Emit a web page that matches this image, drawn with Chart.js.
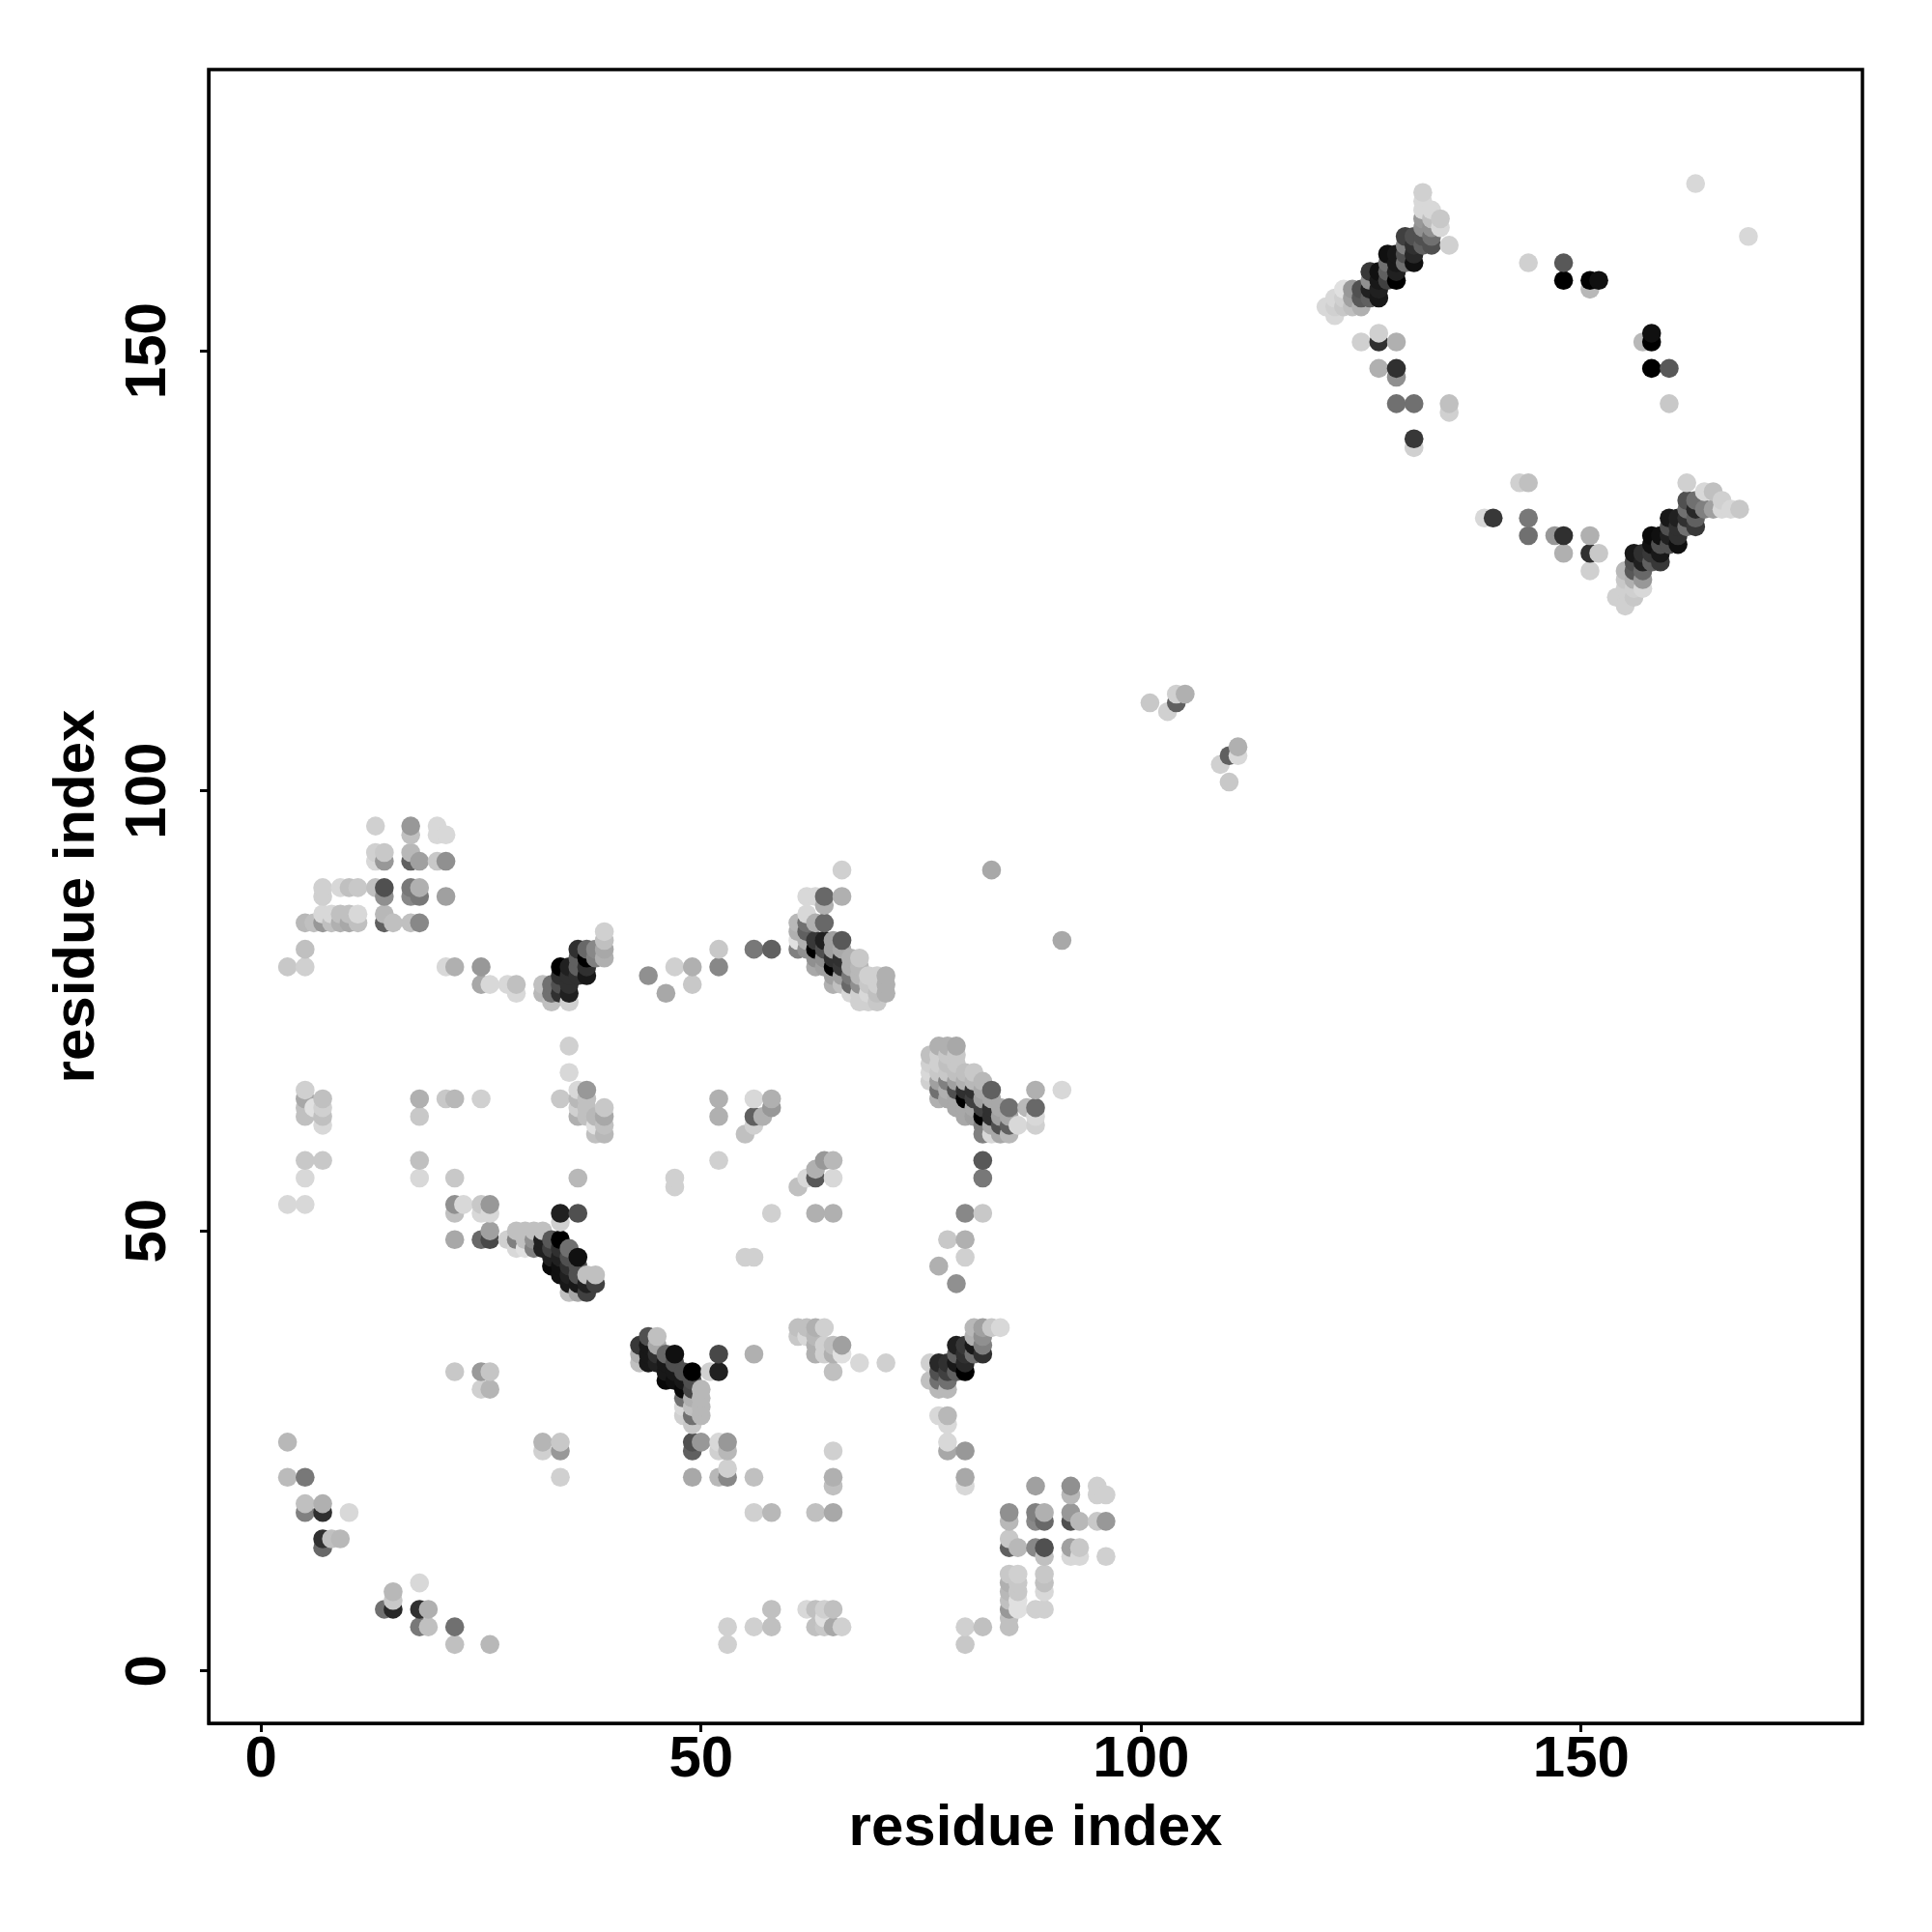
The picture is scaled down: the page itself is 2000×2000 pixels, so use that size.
<!DOCTYPE html>
<html>
<head>
<meta charset="utf-8">
<title>residue contact map</title>
<script src="https://cdn.jsdelivr.net/npm/chart.js@4/dist/chart.umd.min.js"></script>
<style>
  html, body { margin: 0; padding: 0; background: #fff; }
  canvas { display: block; }
</style>
</head>
<body>
<canvas id="contactChart" width="2000" height="2000"></canvas>
<script>
// Contact map. Each entry is [residue x, residue y, grey level].
const tickValues = [0, 50, 100, 150];
const axisTitle = "residue index";

const lowerLeft = [
  [3,26,0xb8],[3,22,0xbb],[5,22,0x78],[5,19,0xc0],[5,18,0x80],[7,19,0xb0],[7,18,0x30],[10,18,0xd8],
  [7,15,0x30],[7,14,0x68],[8,15,0xc0],[9,15,0xb8],[15,9,0xb8],[15,8,0xc8],[14,7,0x70],[15,7,0x28],
  [18,10,0xd8],[18,7,0x30],[19,7,0xb0],[18,5,0x78],[19,5,0xc0],[22,5,0x70],[22,3,0xc0],[26,3,0xb8],
  [22,34,0xc8],[25,34,0x99],[26,34,0xc5],[25,32,0xd0],[26,32,0xb5],[32,26,0xb5],[32,25,0xd0],
  [34,26,0xc8],[34,25,0x98],[34,22,0xd0],
];

const strandA = [
  [43,37,0x38],[43,36,0xb0],[43,35,0xc0],[44,38,0x50],[44,37,0x18],[44,36,0x18],[44,35,0x18],
  [45,38,0xc0],[45,37,0xa8],[45,36,0x30],[45,35,0x20],[46,36,0x68],[46,35,0x18],[46,34,0x18],[46,33,0x08],
  [47,36,0x10],[47,35,0x50],[47,34,0x18],[47,33,0x10],[48,34,0x50],[48,33,0x18],[48,32,0x08],[48,31,0x70],
  [48,30,0xd8],[48,29,0xd0],[49,34,0x00],[49,33,0x50],[49,32,0x48],[49,31,0xb0],[49,30,0xc0],[49,29,0x70],
  [49,28,0xc8],[50,32,0xb8],[50,31,0xb8],[50,30,0xb8],[50,29,0xb8],[51,34,0xd0],[52,36,0x48],[52,34,0x20],
  [56,36,0xb0],
];

const lowerMiddle = [
  [49,26,0x50],[49,25,0x60],[50,26,0x98],[52,26,0xd8],[52,25,0xd0],[53,26,0x98],[53,25,0xb8],
  [49,22,0xa8],[52,22,0xb8],[53,22,0x88],[53,23,0xd0],[56,22,0xc0],[65,25,0xd0],[65,22,0xb0],[65,21,0xc0],
  [56,18,0xd0],[58,18,0xb8],[63,18,0xc0],[65,18,0xa8],[58,7,0xc0],[62,7,0xd8],[63,7,0xc0],[64,7,0xd0],[65,7,0xc0],
  [53,5,0xd0],[53,3,0xd0],[56,5,0xd0],[58,5,0xc0],[63,5,0xc0],[64,5,0xc8],[64,6,0xe0],[65,5,0xa8],[66,5,0xd0],
  [61,39,0xc0],[62,39,0xc0],[63,39,0xb0],[64,39,0xd0],[61,38,0xc8],[62,38,0xd8],[63,38,0xb8],[63,37,0xb0],
  [63,36,0xb0],[64,37,0xd0],[64,36,0xd0],[65,37,0xc0],[65,36,0xb0],[66,37,0xa0],[66,36,0xe0],[65,34,0xc0],
  [68,35,0xd8],[71,35,0xd0],
];

const strandB = [
  [76,35,0xd0],[76,33,0xc0],[77,35,0x28],[77,34,0x50],[77,33,0x70],[77,32,0xb8],[78,35,0x30],[78,34,0x40],
  [78,33,0x70],[78,32,0xb8],[79,37,0x20],[79,36,0x60],[79,35,0x18],[79,34,0x60],[80,37,0x38],[80,36,0x30],
  [80,35,0x28],[80,34,0x00],[81,39,0xb8],[81,38,0xb0],[81,37,0x18],[81,36,0x70],[82,39,0xa0],[82,38,0x90],
  [82,37,0x80],[82,36,0x30],[83,39,0xc8],[84,39,0xd8],
];

const lowerRight = [
  [80,25,0x98],[78,25,0xa8],[78,26,0xd8],[78,28,0xd8],[78,29,0xb8],[77,29,0xd8],[80,22,0xa8],[80,21,0xd8],
  [80,5,0xd0],[82,5,0xc0],[80,3,0xc8],[85,5,0xc0],[85,6,0xc0],[85,7,0x98],[85,8,0xc0],[85,9,0xb8],[85,10,0xb0],[85,11,0xc8],
  [86,11,0xd0],[86,10,0xc8],[86,9,0xc8],[86,8,0xe0],[86,7,0xe0],[88,7,0xd0],[89,7,0xd0],[89,9,0xd8],[89,10,0xc0],[89,11,0xc8],
  [85,15,0xc8],[85,14,0x60],[86,14,0xb8],[88,14,0x88],[89,14,0x50],[89,13,0xc0],[92,14,0xa0],[93,14,0xc8],[92,13,0xd8],[93,13,0xd8],[96,13,0xd0],
  [85,18,0x90],[85,17,0xb8],[88,18,0x80],[88,17,0x88],[89,18,0xb0],[89,17,0x68],[92,18,0x98],[92,17,0x50],[93,17,0xb8],[95,17,0xc8],[96,17,0x98],
  [88,21,0xa0],[92,21,0x90],[92,20,0xb8],[95,21,0xd0],[95,20,0xd0],[96,20,0xd0],
];

const middleLeft = [
  [5,66,0xd0],[5,65,0xa8],[5,64,0xc0],[5,63,0xc0],[6,64,0xe0],[7,65,0xc0],[7,64,0xd0],[7,63,0xc0],[7,62,0xd8],
  [5,58,0xc8],[7,58,0xc8],[5,56,0xd8],[3,53,0xd8],[5,53,0xd8],[18,65,0xb0],[18,63,0xc8],[21,65,0xc8],[22,65,0xb8],[25,65,0xd0],
  [18,58,0xc0],[18,56,0xd8],[22,56,0xc8],[22,53,0x90],[22,52,0xc0],[23,53,0xd8],[25,53,0xc8],[26,53,0x98],[25,52,0xd8],[26,52,0xd8],
  [22,49,0xa8],[25,49,0x68],[26,49,0x48],[26,50,0xa0],[28,49,0xd0],
  [35,71,0xd0],[35,68,0xd8],[34,65,0xc8],[36,66,0xd8],[37,66,0x98],[36,65,0xb8],[37,65,0xc0],[36,64,0xd0],[37,64,0xc0],[36,63,0xb0],[37,63,0xc0],
  [39,64,0xc8],[39,63,0xa8],[38,63,0xb8],[38,62,0xe0],[39,62,0xc0],[38,61,0xc0],[39,61,0xb8],[36,56,0xb8],[47,56,0xd0],[47,55,0xd0],
];

const strandC = [
  [29,50,0xc0],[30,50,0xc0],[31,50,0xc0],[32,50,0xc0],[29,49,0x80],[30,49,0xc0],[31,49,0x90],[32,49,0x20],
  [29,48,0xd8],[30,48,0xe0],[31,48,0x80],[32,48,0x20],[33,49,0x58],[34,49,0x00],[34,52,0x20],[36,52,0x50],[34,51,0xd0],
  [33,48,0x40],[34,48,0x30],[35,48,0x70],[33,47,0x20],[34,47,0x20],[35,47,0x50],[36,47,0x10],
  [33,46,0x08],[34,46,0x10],[35,46,0x30],[36,46,0x50],[34,45,0x10],[35,45,0x20],[36,45,0x50],[37,45,0xc0],[38,45,0xc0],
  [35,44,0x18],[36,44,0x18],[37,44,0x20],[38,44,0x40],[35,43,0xc0],[36,43,0xa8],[37,43,0x40],
];

const middleRight = [
  [52,65,0xb0],[52,63,0xb0],[52,58,0xd0],[56,65,0xd8],[58,65,0xb0],[58,64,0x98],[56,63,0x60],[57,63,0xb0],[56,62,0xd0],[55,61,0xc0],
  [58,52,0xd0],[63,52,0xb0],[65,52,0xb0],[55,47,0xd0],[56,47,0xd0],[65,56,0xd8],[63,56,0x58],[63,57,0xb0],[62,56,0xd8],[61,55,0xc0],[64,58,0x98],[65,58,0xb8],
  [82,58,0x58],[82,56,0x78],[80,52,0x88],[82,52,0xc8],[78,49,0xc8],[80,49,0xb0],[80,47,0xd0],[77,46,0xb0],[79,44,0x90],
];

const strandD = [
  [77,71,0xb0],[78,71,0xb0],[79,71,0xa8],[76,70,0xc0],[77,70,0xd0],[78,70,0xc8],[79,70,0xc8],[76,69,0xd0],[77,69,0xd0],[78,69,0xc0],[79,69,0xc8],
  [76,68,0xd8],[77,68,0xc8],[78,68,0xc8],[79,68,0xc0],[80,68,0xc0],[81,68,0xc8],[76,67,0xd0],[77,67,0xa0],[78,67,0x80],[79,67,0xa0],[80,67,0xb0],[81,67,0xb8],[82,67,0xb8],
  [77,66,0x70],[78,66,0xb0],[79,66,0x50],[80,66,0x30],[81,66,0x30],[82,66,0xa8],[83,66,0x60],[88,66,0xb0],[91,66,0xd8],
  [77,65,0xb0],[78,65,0xa8],[79,65,0xa8],[80,65,0x00],[81,65,0x40],[82,65,0xa0],[83,65,0xa8],
  [79,64,0xa8],[80,64,0xa8],[81,64,0xa8],[82,64,0x40],[83,64,0x30],[84,64,0xa8],[85,64,0x70],[87,64,0xb8],[88,64,0x68],
  [80,63,0xa8],[81,63,0xa0],[82,63,0x00],[83,63,0x30],[84,63,0xa0],[85,63,0xa8],[88,63,0xd8],
  [82,62,0x80],[83,62,0xa8],[84,62,0x50],[85,62,0x60],[86,62,0xd8],[88,62,0xd0],[82,61,0x80],[83,61,0xd8],[84,61,0xa8],[85,61,0xb8],
];

const upperLeft = [
  [13,96,0xd0],[17,96,0x98],[17,95,0xc0],[20,96,0xd8],[20,95,0xd8],[21,95,0xd8],[13,93,0xd0],[13,92,0xd8],[14,93,0xc8],[14,92,0x98],
  [17,93,0xb8],[17,92,0x60],[18,92,0xa0],[20,92,0xc8],[21,92,0x90],[7,89,0xd0],[7,88,0xd0],[9,89,0xd8],[10,89,0xc0],[11,89,0xc8],
  [13,89,0xc0],[14,89,0x50],[14,88,0x90],[17,89,0x78],[17,88,0x88],[18,89,0xb0],[18,88,0x78],[21,88,0xa0],
  [5,85,0xb8],[6,85,0xc0],[7,85,0x98],[7,86,0xd8],[8,85,0xc0],[8,86,0xd8],[9,85,0xb0],[9,86,0xc0],[10,85,0xa8],[10,86,0xc0],[11,85,0xc0],[11,86,0xd8],
  [14,86,0xb8],[14,85,0x60],[15,85,0xc0],[17,85,0xc0],[18,85,0x88],[5,82,0xc0],[3,80,0xc8],[5,80,0xd0],
  [21,80,0xd8],[22,80,0xb0],[25,80,0x98],[25,78,0xa8],[26,78,0xd8],[28,78,0xd8],[29,78,0xc0],[29,77,0xd8],
];

const strandE = [
  [32,78,0xc0],[32,77,0xb8],[33,78,0x70],[33,77,0x70],[33,76,0xc0],[34,80,0x00],[34,79,0x30],[34,78,0x50],[34,77,0x30],
  [35,80,0x20],[35,79,0x30],[35,78,0x30],[35,77,0x20],[35,76,0xd0],[36,82,0x30],[36,81,0x60],[36,80,0x60],[36,79,0x30],
  [37,82,0x68],[37,81,0x00],[37,80,0x30],[37,79,0x18],[38,82,0x88],[38,81,0x80],[39,84,0xd0],[39,83,0xc0],[39,82,0xa8],[39,81,0xb0],
];

const upperMiddle = [
  [44,79,0x90],[46,77,0xa8],[47,80,0xd0],[49,80,0xb0],[49,78,0xc8],[52,82,0xc8],[52,80,0x88],[56,82,0x78],[58,82,0x60],
  [66,91,0xd0],[83,91,0xa8],[91,83,0xa8],
];

const strandF = [
  [62,88,0xd8],[63,88,0xd8],[64,88,0x68],[66,88,0xb0],[64,87,0xb0],[62,86,0xd8],[61,85,0xb8],[62,85,0x70],[63,85,0xb0],[64,85,0x68],
  [61,84,0xb0],[62,84,0x60],[61,83,0xe0],[62,83,0xb0],[63,83,0x38],[64,83,0x20],[65,83,0xa0],[66,83,0x58],[61,82,0x80],[62,82,0x90],[63,82,0x00],[64,82,0x50],[65,82,0xa0],[66,82,0xa8],
  [63,81,0x90],[64,81,0x90],[65,81,0x30],[66,81,0x30],[67,81,0xb0],[68,81,0xc8],[63,80,0xa8],[64,80,0xa0],[65,80,0x00],[66,80,0x38],[67,80,0xb0],[68,80,0xb8],
  [65,79,0xa0],[66,79,0xa0],[67,79,0x78],[68,79,0xb8],[69,79,0xd0],[70,79,0xd0],[71,79,0xb0],[65,78,0xb0],[66,78,0xc0],[67,78,0x68],[68,78,0x90],[69,78,0xc8],[70,78,0xd0],[71,78,0xb0],
  [67,77,0xd8],[68,77,0xd0],[69,77,0xd8],[70,77,0xc0],[71,77,0xb0],[68,76,0xd0],[69,76,0xd0],[70,76,0xc8],
];

const isolated = [
  [101,110,0xc8],[103,109,0xd0],[104,111,0xd0],[104,110,0x60],[105,111,0xb0],[109,103,0xd0],[110,104,0x60],[111,104,0xd8],[111,105,0xb0],[110,101,0xc8],
];

const strandG = [
  [121,155,0xd8],[122,156,0xd8],[122,155,0xd0],[122,154,0xd8],[123,157,0xe0],[123,156,0xd0],[123,155,0xc8],[124,157,0x98],[124,156,0xa0],[124,155,0xc0],
  [125,157,0x50],[125,156,0x58],[125,155,0xb0],[126,159,0x38],[126,158,0x90],[126,157,0x20],[126,156,0x60],[127,159,0x10],[127,158,0x18],[127,157,0x20],[127,156,0x18],
  [128,161,0x10],[128,160,0x70],[128,159,0x60],[128,158,0x40],[129,161,0x18],[129,160,0x18],[129,159,0x20],[129,158,0x00],
  [130,163,0x40],[130,162,0x80],[130,161,0x50],[130,160,0x70],[131,163,0x50],[131,162,0x30],[131,161,0x28],[131,160,0x10],
  [132,168,0xd0],[132,167,0xd8],[132,166,0xd8],[132,165,0x98],[132,164,0x90],[132,163,0x50],[132,162,0x60],
  [133,166,0xd8],[133,165,0xc0],[133,164,0x90],[133,163,0x70],[133,162,0x50],[134,165,0xc8],[134,164,0xd8],[135,162,0xd0],
];

const upperRight = [
  [163,169,0xd8],[169,163,0xd8],[144,160,0xd0],[148,160,0x58],[148,158,0x00],[151,158,0x00],[151,157,0xb8],[152,158,0x10],
  [158,152,0x10],[158,151,0x00],[157,151,0xb8],[158,148,0x00],[160,148,0x58],[160,144,0xc8],
  [125,151,0xd0],[127,152,0xd0],[127,151,0x30],[129,151,0xb0],[127,148,0xb0],[129,148,0x30],[129,147,0x90],[129,144,0x70],[131,144,0x70],
  [135,144,0xc0],[135,143,0xd0],[131,140,0x38],[131,139,0xd0],
  [143,135,0xd0],[144,135,0xc0],[139,131,0xd8],[140,131,0x38],[144,131,0x78],[144,129,0x70],[147,129,0x98],[148,129,0x30],[148,127,0xb0],
  [151,129,0xb0],[151,127,0x30],[152,127,0xc8],[151,125,0xd0],
];

const strandH = [
  [155,121,0xd0],[154,122,0xd0],[156,122,0xc8],[155,125,0xb8],[155,124,0xc8],[155,123,0xd0],[156,123,0xd0],[157,123,0xd8],[157,124,0x98],[157,125,0x68],
  [156,125,0x58],[156,124,0xb0],[156,127,0x18],[157,127,0x30],[156,126,0x50],[157,126,0x20],[158,126,0x60],[158,127,0x38],[158,129,0x0a],[159,129,0x10],
  [159,128,0x50],[159,127,0x18],[159,126,0x38],[158,128,0x10],[160,131,0x18],[161,131,0x20],[160,130,0x50],[161,130,0x30],[160,129,0x20],[161,129,0x30],
  [161,128,0x10],[160,128,0x50],[162,135,0xd0],[162,133,0x50],[162,132,0x70],[162,131,0x30],[162,130,0x70],[163,133,0x70],[163,132,0x28],[163,131,0x60],[163,130,0x38],
  [164,134,0xd8],[165,134,0xc0],[164,132,0x80],[165,132,0xa0],[166,133,0xd0],[166,132,0xd8],[167,132,0xd8],[168,132,0xc8],
];

const groups = [lowerLeft, strandA, lowerMiddle, strandB, lowerRight, middleLeft, strandC, middleRight,
  strandD, upperLeft, strandE, upperMiddle, strandF, isolated, strandG, upperRight, strandH];

// points are plotted column by column, later ones sit on top
const contacts = groups.flat().sort((a, b) => a[0] - b[0] || a[1] - b[1]);

const axisFont = { family: "'Liberation Sans', Arial, sans-serif", size: 60, weight: "bold" };
const AXIS_MIN = -5.96;
const AXIS_MAX = 181.96;

// the two sides of the box that the axes don't draw
const framePlugin = {
  id: "frame",
  afterDatasetsDraw(chart) {
    const { ctx, chartArea: a } = chart;
    ctx.save();
    ctx.strokeStyle = "#000";
    ctx.lineWidth = 3.5;
    ctx.strokeRect(a.left, a.top, a.right - a.left, a.bottom - a.top);
    ctx.restore();
  },
};

function setTicks(scale) {
  scale.ticks = tickValues.map((v) => ({ value: v }));
}

function baseScale() {
  return {
    type: "linear",
    min: AXIS_MIN,
    max: AXIS_MAX,
    afterBuildTicks: setTicks,
    border: { display: true, color: "#000", width: 3 },
    grid: { drawOnChartArea: false, drawTicks: true, tickLength: 9, tickWidth: 3, tickColor: "#000" },
  };
}

new Chart(document.getElementById("contactChart"), {
  type: "scatter",
  data: {
    datasets: [{
      data: contacts.map((c) => ({ x: c[0], y: c[1] })),
      pointBackgroundColor: contacts.map((c) => `rgb(${c[2]},${c[2]},${c[2]})`),
      pointBorderWidth: 0,
      pointRadius: 9.8,
      pointHoverRadius: 9.8,
    }],
  },
  plugins: [framePlugin],
  options: {
    responsive: false,
    animation: false,
    events: [],
    layout: { padding: { top: 72, right: 72, left: 0, bottom: 0 } },
    plugins: { legend: { display: false }, tooltip: { enabled: false } },
    scales: {
      x: {
        ...baseScale(),
        afterFit: (s) => { s.height = 216; },
        ticks: { color: "#000", font: axisFont, padding: -7, maxRotation: 0, minRotation: 0, autoSkip: false },
        title: { display: true, text: axisTitle, color: "#000", font: axisFont, padding: { top: 0, bottom: 71 } },
      },
      y: {
        ...baseScale(),
        afterFit: (s) => { s.width = 216; },
        ticks: { color: "#000", font: axisFont, padding: 2.5, minRotation: 90, maxRotation: 90, crossAlign: "center", autoSkip: false },
        title: { display: true, text: axisTitle, color: "#000", font: axisFont, padding: { top: 44, bottom: 0 } },
      },
    },
  },
});
</script>
</body>
</html>
